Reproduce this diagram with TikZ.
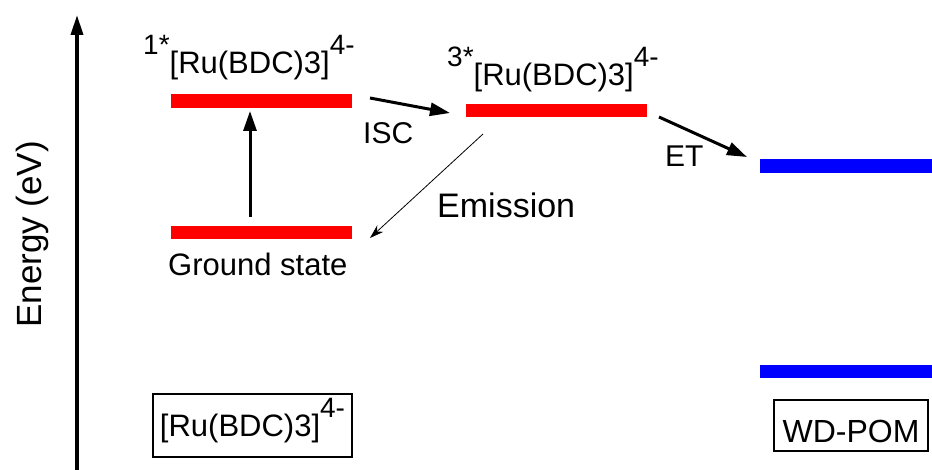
\documentclass[tikz,border=0pt]{standalone}
\usepackage{fontspec}
\setmainfont{Liberation Sans}
\usetikzlibrary{arrows.meta, positioning}

\newcommand{\chg}[1]{\raisebox{19pt}{\fontsize{28}{32}\selectfont #1}}

\begin{document}
\begin{tikzpicture}[
    x=1pt, y=-1pt,
    level/.style={rectangle, inner sep=0pt, minimum width=181pt,
                  minimum height=13.5pt},
    redlevel/.style={level, fill=red},
    bluelevel/.style={level, fill=blue, minimum width=172pt},
    lbl/.style={anchor=base west, inner sep=0pt,
                font=\fontsize{30}{36}\selectfont},
    tag/.style={draw=black, line width=1.2pt, inner sep=0pt,
                font=\fontsize{31}{36}\selectfont},
    trans/.style={line width=3pt, -{Triangle[length=20pt, width=13pt]}},
    emit/.style={line width=0.8pt, -{Stealth[length=14pt, width=9pt]}}
]
\useasboundingbox (0,0) rectangle (932,470);

% energy axis
\coordinate (axbot) at (77,470);
\coordinate (axtop) at (77,15);
\draw[line width=3.5pt, -{Triangle[length=20pt, width=12pt]}] (axbot) -- (axtop);
\node[rotate=90, anchor=base west, inner sep=0pt,
      font=\fontsize{35}{40}\selectfont] (energy) at (41,328) {Energy (eV)};

% levels
\node[redlevel] (s1) at (261.5,101) {};
\node[redlevel] (gs) at (261.5,232.5) {};
\node[redlevel] (t1) at (556.5,110.5) {};
\node[bluelevel] (wd1) at (846,166) {};
\node[bluelevel] (wd2) at (846,371.5) {};

% level labels
\node[lbl, font=\fontsize{31}{36}\selectfont] (s1lbl) at (143,74)
    {\chg{1*}[Ru(BDC)3]\chg{4-}};
\node[lbl, font=\fontsize{31}{36}\selectfont] (t1lbl) at (447,86)
    {\chg{3*}[Ru(BDC)3]\chg{4-}};
\node[lbl, font=\fontsize{31}{36}\selectfont] (gslbl) at (168,276) {Ground state};

% transitions
\coordinate (exc-a) at (250,217);
\coordinate (exc-b) at (250,111);
\coordinate (isc-a) at (370,98);
\coordinate (isc-b) at (450,113);
\coordinate (et-a) at (659,117);
\coordinate (et-b) at (747,157);
\coordinate (em-a) at (483,134);
\coordinate (em-b) at (370,238);
\draw[trans] (exc-a) -- (exc-b);
\draw[trans] (isc-a) -- (isc-b);
\draw[trans] (et-a) -- (et-b);
\draw[emit] (em-a) -- (em-b);
\node[lbl] (isclbl) at (363,144) {ISC};
\node[lbl] (etlbl) at (665,167) {ET};
\node[lbl, font=\fontsize{34}{40}\selectfont] (emlbl) at (437,218) {Emission};

% species boxes
\node[tag, minimum width=199pt, minimum height=63pt,
      text height=25pt, text depth=4pt] (rubox) at (252.5,425.5)
    {[Ru(BDC)3]\chg{4-}};
\node[tag, minimum width=154pt, minimum height=51pt,
      text height=33pt, text depth=0pt,
      font=\fontsize{32}{36}\selectfont] (wdbox) at (851,425.5) {WD-POM};
\end{tikzpicture}
\end{document}
